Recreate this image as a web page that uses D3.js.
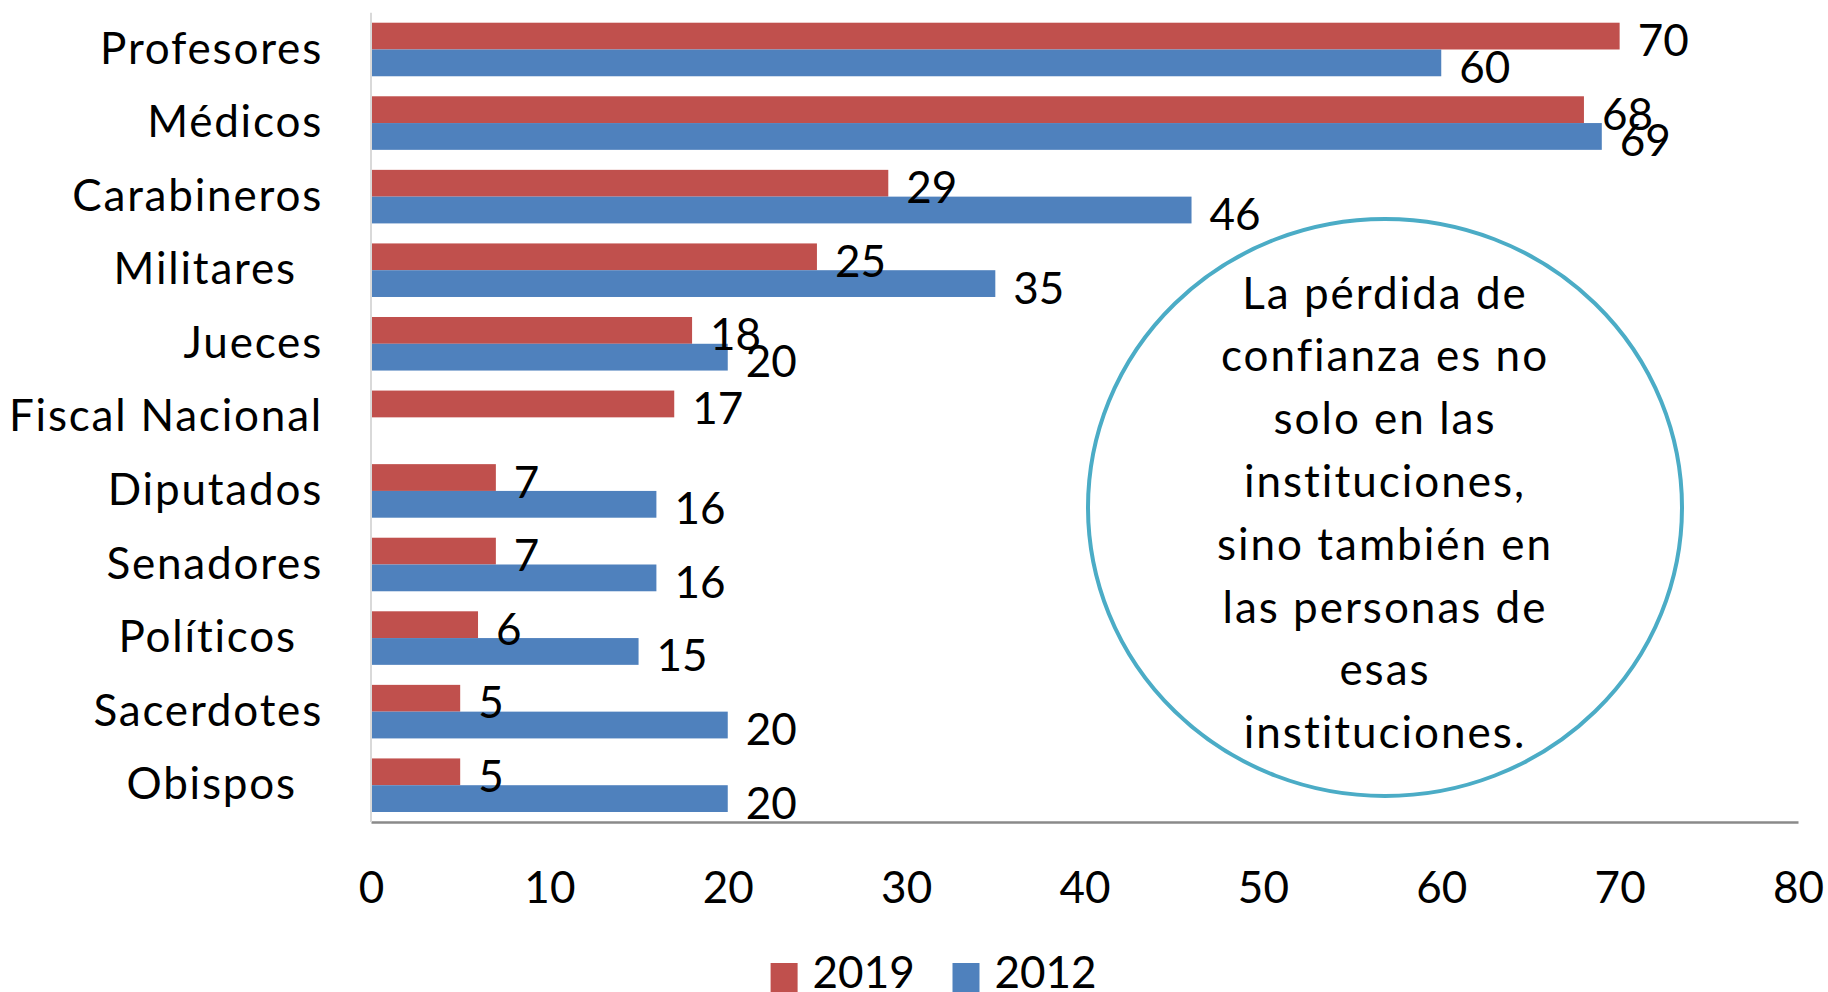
<!DOCTYPE html>
<html>
<head>
<meta charset="utf-8">
<script src="https://cdn.jsdelivr.net/npm/d3@7"></script>
<style>
  body { margin: 0; background: #fff; }
  text { font-family: Lato, 'Open Sans', sans-serif; fill: #000; }
</style>
</head>
<body>
<svg id="chart"></svg>
<script>
const width = 1828;
const height = 992;
const fontSize = 44;

// data
const categories = ['Profesores', 'Médicos', 'Carabineros', 'Militares  ', 'Jueces', 'Fiscal Nacional',
                    'Diputados', 'Senadores', 'Políticos  ', 'Sacerdotes', 'Obispos  '];
const series = ['2019', '2012'];
const values2019 = [70, 68, 29, 25, 18, 17, 7, 7, 6, 5, 5];
const values2012 = [60, 69, 46, 35, 20, null, 16, 16, 15, 20, 20];
const xTicks = [0, 10, 20, 30, 40, 50, 60, 70, 80];
const note = ['La pérdida de', 'confianza es no', 'solo en las', 'instituciones,',
              'sino también en', 'las personas de', 'esas', 'instituciones.'];

const colors = {'2019': '#C0504D', '2012': '#4F81BD'};

const svg = d3.select('#chart')
    .attr('width', width)
    .attr('height', height);

const plotLeft = 371, plotRight = 1798, plotTop = 12.7, plotBottom = 822;

const x = d3.scaleLinear().domain([0, 80]).range([plotLeft, plotRight]);
const y = d3.scaleBand().domain(categories).range([plotTop, plotBottom])
    .paddingInner(0.272).paddingOuter(0.136);
const ySub = d3.scaleBand().domain(series).range([0, y.bandwidth()]);

const rows = categories.map((c, i) => ({cat: c, '2019': values2019[i], '2012': values2012[i]}));
const bars = [];
rows.forEach(r => series.forEach(s => {
    if (r[s] != null) bars.push({cat: r.cat, series: s, value: r[s]});
}));

// bars
svg.append('g').selectAll('rect').data(bars).enter().append('rect')
    .attr('x', x(0))
    .attr('y', d => y(d.cat) + ySub(d.series))
    .attr('width', d => x(d.value) - x(0))
    .attr('height', ySub.bandwidth())
    .attr('fill', d => colors[d.series]);

// value labels
svg.append('g').selectAll('text').data(bars).enter().append('text')
    .attr('x', d => x(d.value) + 18)
    .attr('y', d => y(d.cat) + ySub(d.series) + ySub.bandwidth() / 2 + 3)
    .attr('dominant-baseline', 'central')
    .style('font-size', fontSize + 'px')
    .text(d => d.value);

// x axis
const xAxis = svg.append('g').attr('transform', `translate(0, ${plotBottom})`)
    .call(d3.axisBottom(x).tickValues(xTicks).tickSize(0).tickPadding(50));
xAxis.select('.domain').attr('stroke', '#8a8a8a').attr('stroke-width', 2.5);
xAxis.selectAll('text').style('font-size', fontSize + 'px').attr('fill', '#000');

// y axis
const yAxis = svg.append('g').attr('transform', `translate(${plotLeft}, 0)`)
    .call(d3.axisLeft(y).tickSize(0).tickPadding(48));
yAxis.select('.domain').attr('stroke', '#d9d9d9').attr('stroke-width', 2)
    .attr('d', `M0,${plotTop}V${plotBottom}`);
yAxis.selectAll('text').style('font-size', fontSize + 'px').style('white-space', 'pre')
    .style('letter-spacing', '1.8px').attr('fill', '#000');

// note in ellipse
const cx = 1385, cy = 507.5;
svg.append('ellipse')
    .attr('cx', cx).attr('cy', cy).attr('rx', 297).attr('ry', 288.5)
    .attr('fill', '#fff').attr('stroke', '#4BACC6').attr('stroke-width', 4);
svg.append('g').selectAll('text').data(note).enter().append('text')
    .attr('x', cx)
    .attr('y', (d, i) => 291.5 + i * 62.8)
    .attr('text-anchor', 'middle')
    .attr('dominant-baseline', 'central')
    .style('font-size', fontSize + 'px')
    .style('letter-spacing', '2px')
    .text(d => d);

// legend
const legendX = [770.6, 952.5];
const legend = svg.append('g').selectAll('g').data(series).enter().append('g')
    .attr('transform', (d, i) => `translate(${legendX[i]}, 963)`);
legend.append('rect').attr('width', 27).attr('height', 30).attr('fill', d => colors[d]);
legend.append('text').attr('x', 42).attr('y', 25)
    .style('font-size', fontSize + 'px').text(d => d);
</script>
</body>
</html>
